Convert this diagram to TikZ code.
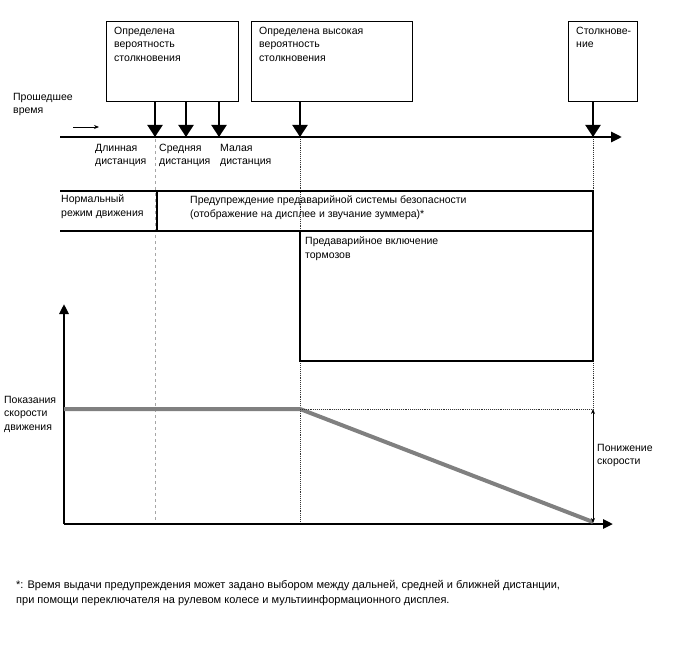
\documentclass[tikz,border=0pt]{standalone}
\usepackage{fontspec}
\setmainfont{Liberation Sans}
\usetikzlibrary{arrows.meta,positioning}

\tikzset{
  ereignis/.style={draw,line width=1.3pt,minimum height=80pt,inner sep=0pt,anchor=north west},
  txt/.style={anchor=north west,align=left,inner sep=0pt,font=\fontsize{10.5}{13.3}\selectfont},
  pfeil/.style={-{Triangle[width=15pt,length=12pt]},line width=2.2pt},
  zeitachse/.style={-{Triangle[width=10pt,length=11pt]},line width=2.8pt},
  rahmen/.style={line width=1.1pt},
  grauhilfe/.style={dashed,gray!70,line width=0.9pt},
  hilfe/.style={densely dotted,black!80,line width=0.9pt},
}

\begin{document}
\begin{tikzpicture}[x=1pt,y=-1pt]
  \useasboundingbox (0,0) rectangle (688,658);

  % Ereignisse
  \node[ereignis,minimum width=132pt] (wahrsch) at (106,21) {};
  \node[ereignis,minimum width=161pt] (hochwahrsch) at (251,21) {};
  \node[ereignis,minimum width=69pt] (kollision) at (568,21) {};
  \node[txt] (wahrschtxt) at (114,27) {Определена\\вероятность\\столкновения};
  \node[txt] (hochtxt) at (259,27) {Определена высокая\\вероятность\\столкновения};
  \node[txt] (kollisiontxt) at (576,27) {Столкнове-\\ние};

  % Zeitachse
  \coordinate (start) at (60,137);
  \coordinate (ende) at (622,137);
  \draw[zeitachse] (start) -- (ende);
  \node[txt] (zeit) at (13,93) {Прошедшее\\время};
  \coordinate (richtungA) at (73,127);
  \coordinate (richtungB) at (99,127);
  \draw[line width=0.9pt,-{Stealth[length=5pt,width=4pt]}] (richtungA) -- (richtungB);

  % Zeitpunkte
  \foreach \n/\x in {lang/155,mittel/186,kurz/219}{
    \coordinate (\n) at (\x,137);
    \draw[pfeil] (wahrsch.south -| \n) -- (\n);
  }
  \coordinate (hoch) at (300,137);
  \coordinate (crash) at (593,137);
  \draw[pfeil] (hochwahrsch.south -| hoch) -- (hoch);
  \draw[pfeil] (kollision.south -| crash) -- (crash);

  \node[txt] (langtxt) at (95,144) {Длинная\\дистанция};
  \node[txt] (mitteltxt) at (159,144) {Средняя\\дистанция};
  \node[txt] (kurztxt) at (220,144) {Малая\\дистанция};

  % Hilfslinien
  \coordinate (ursprung) at (64,524);
  \draw[grauhilfe] ([yshift=-2pt]lang) -- (lang |- ursprung);
  \draw[hilfe] ([yshift=-2pt]hoch) -- (hoch |- ursprung);
  \draw[hilfe] ([yshift=-2pt]crash) -- (593,409);

  % Betriebszustaende
  \draw[rahmen] (60,191) -- (593,191) -- (593,361) -- (300,361) -- (300,231);
  \draw[rahmen] (60,231) -- (593,231);
  \draw[rahmen] (157,191) -- (157,231);
  \node[txt] (normal) at (61,195) {Нормальный\\режим движения};
  \node[txt] (warnung) at (190,196) {Предупреждение предаварийной системы безопасности\\(отображение на дисплее и звучание зуммера)*};
  \node[txt] (bremse) at (305,237) {Предаварийное включение\\тормозов};

  % Geschwindigkeit
  \draw[line width=2.8pt,-{Triangle[width=9pt,length=10pt]}] (ursprung) -- (64,304);
  \draw[line width=2.8pt,-{Triangle[width=9pt,length=10pt]}] (ursprung) -- (613,524);
  \draw[gray,line width=4pt,line join=round] (64,409) -- (300,409) -- (593,522);
  \draw[hilfe] (300,409) -- (593,409);
  \draw[line width=0.9pt,{Stealth[length=5pt,width=4pt]}-{Stealth[length=5pt,width=4pt]}] (593,409) -- (593,523);
  \node[txt] (anzeige) at (4,396) {Показания\\скорости\\движения};
  \node[txt] (senkung) at (597,444) {Понижение\\скорости};

  % Fussnote
  \node[txt,font=\fontsize{11}{15}\selectfont] (fussnote) at (16,580) {*: Время выдачи предупреждения может задано выбором между дальней, средней и ближней дистанции,\\при помощи переключателя на рулевом колесе и мультиинформационного дисплея.};
\end{tikzpicture}
\end{document}
